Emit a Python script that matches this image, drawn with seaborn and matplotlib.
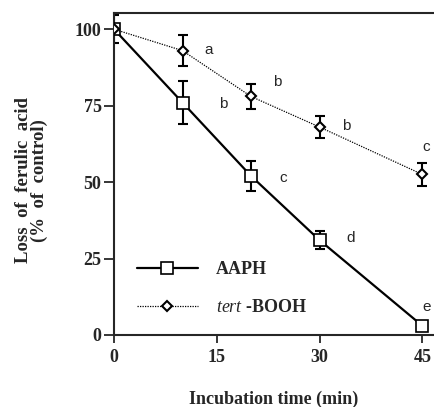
import matplotlib
matplotlib.use("Agg")
import matplotlib.pyplot as plt
import seaborn as sns
import pandas as pd
import numpy as np
from matplotlib.lines import Line2D

sns.set_style("ticks")
plt.rcParams['font.family'] = ['Liberation Serif', 'DejaVu Serif']
plt.rcParams['mathtext.fontset'] = 'custom'
plt.rcParams['mathtext.it'] = 'Liberation Serif:italic'
plt.rcParams['mathtext.rm'] = 'Liberation Serif'

time = [0, 10, 20, 30, 45]
aaph = [100, 76, 52, 31, 3]
aaph_err = [4.5, 7, 5, 3, 0]
aaph_letters = ["", "b", "c", "d", "e"]
tert = [100, 93, 78, 68, 52.5]
tert_err = [0, 5, 4, 3.7, 3.7]
tert_letters = ["", "a", "b", "b", "c"]
xticks = [0, 15, 30, 45]
yticks = [0, 25, 50, 75, 100]

df = pd.DataFrame({
    "time": time * 2,
    "value": aaph + tert,
    "series": ["AAPH"] * 5 + ["tert-BOOH"] * 5,
})

fig = plt.figure(figsize=(4.34, 4.07), dpi=100)
ax = fig.add_axes([0.2627, 0.177, 0.7373, 0.791])
ax.spines['right'].set_visible(False)
for s in ['left', 'bottom', 'top']:
    ax.spines[s].set_linewidth(1.5)
ax.spines['left'].set_position(('data', 0))
ax.spines['bottom'].set_position(('data', 0))

# error bars
ax.errorbar(time, aaph, yerr=aaph_err, fmt='none', ecolor='black',
            elinewidth=1.5, capsize=3.6, capthick=1.5, zorder=2)
ax.errorbar(time, tert, yerr=tert_err, fmt='none', ecolor='black',
            elinewidth=1.5, capsize=3.6, capthick=1.5, zorder=2)

sns.lineplot(data=df[df.series == "AAPH"], x="time", y="value", ax=ax,
             color='black', linewidth=1.6, marker='s', markersize=8,
             markerfacecolor='white', markeredgecolor='black',
             markeredgewidth=1.2, zorder=3, legend=False)
sns.lineplot(data=df[df.series == "tert-BOOH"], x="time", y="value", ax=ax,
             color='black', linewidth=0.9, linestyle=(0, (1, 1)), marker='D',
             markersize=5.5, markerfacecolor='white', markeredgecolor='black',
             markeredgewidth=1.5, zorder=3, legend=False)

# significance letters
a_off = [(0, 0), (5.9, -0.5), (4.7, -0.7), (4.5, 0.7), (0.6, 6.2)]
t_off = [(0, 0), (3.8, 0.1), (3.8, 4.7), (3.9, 0.3), (0.6, 8.9)]
for i, t in enumerate(time):
    if aaph_letters[i]:
        dx, dy = a_off[i]
        ax.text(t + dx, aaph[i] + dy, aaph_letters[i], family='Liberation Sans',
                fontsize=11, ha='center', va='center')
    if tert_letters[i]:
        dx, dy = t_off[i]
        ax.text(t + dx, tert[i] + dy, tert_letters[i], family='Liberation Sans',
                fontsize=11, ha='center', va='center')

ax.set_xlim(0, 46.7)
ax.set_ylim(0, 105.3)
ax.set_xticks(xticks)
ax.set_yticks(yticks)
ax.set_xticklabels([str(v) for v in xticks], fontsize=13, fontweight='bold')
ax.set_yticklabels([str(v) for v in yticks], fontsize=13, fontweight='bold')
ax.tick_params(axis='y', direction='out', length=7, width=1.3, pad=2)
ax.tick_params(axis='x', direction='out', length=6, width=1.3, pad=4)

ax.set_xlabel("Incubation time (min)", fontsize=13, fontweight='bold', labelpad=18)
ax.set_ylabel("Loss  of  ferulic  acid\n(%  of  control)", fontsize=13.5,
              fontweight='bold', linespacing=0.95)
ax.yaxis.set_label_coords(-0.205, 0.481)

handles = [
    Line2D([], [], color='black', linewidth=1.6, marker='s', markersize=8,
           markerfacecolor='white', markeredgewidth=1.2),
    Line2D([], [], color='black', linewidth=0.9, linestyle=(0, (1, 1)), marker='D',
           markersize=5.5, markerfacecolor='white', markeredgewidth=1.5),
]
leg = ax.legend(handles, ["AAPH", "$\\it{tert}$ -BOOH"], loc='lower left',
                bbox_to_anchor=(0.02, 0.008), frameon=False, handlelength=3.4,
                labelspacing=1.15, handletextpad=1.0,
                prop={'weight': 'bold', 'size': 13, 'family': 'Liberation Serif'})

fig.savefig("out.png", dpi=100)
